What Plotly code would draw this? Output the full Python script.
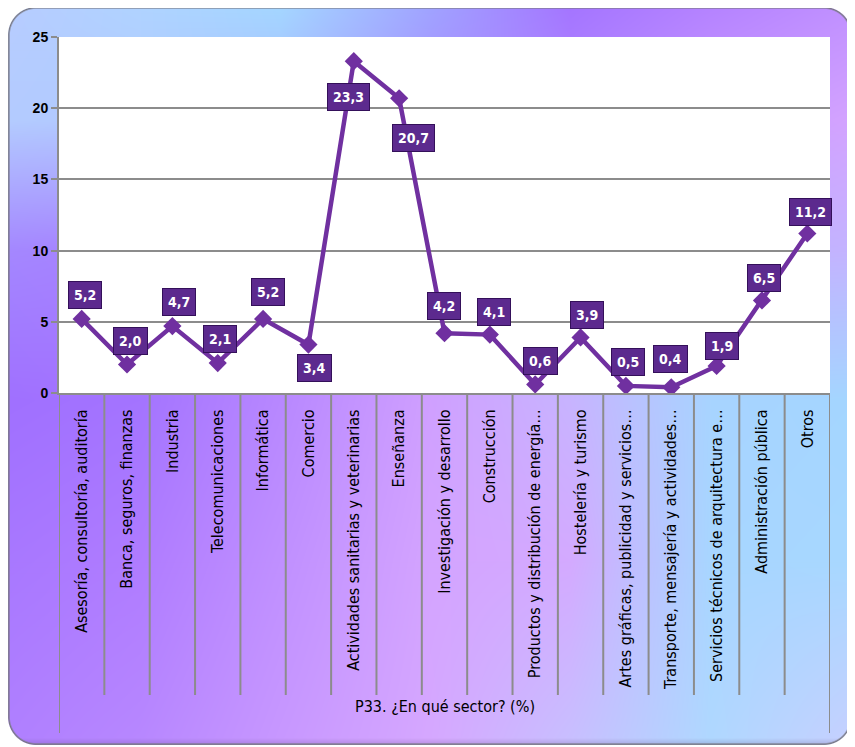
import base64
import struct
import zlib

import numpy as np
import plotly.graph_objects as go

# datos
sectores = [
    "Asesoría, consultoría, auditoría",
    "Banca, seguros, finanzas",
    "Industria",
    "Telecomunicaciones",
    "Informática",
    "Comercio",
    "Actividades sanitarias y veterinarias",
    "Enseñanza",
    "Investigación y desarrollo",
    "Construcción",
    "Productos y distribución de energía…",
    "Hostelería y turismo",
    "Artes gráficas, publicidad y servicios…",
    "Transporte, mensajería y actividades…",
    "Servicios técnicos de arquitectura e…",
    "Administración pública",
    "Otros",
]
porcentaje = [5.2, 2.0, 4.7, 2.1, 5.2, 3.4, 23.3, 20.7, 4.2, 4.1, 0.6, 3.9, 0.5, 0.4, 1.9, 6.5, 11.2]
titulo_eje = "P33. ¿En qué sector? (%)"

# desplazamiento de las etiquetas (px)
label_dx = [3, 3, 7, 2, 5, 6, -5, 14, -1, 4, 5, 6, 2, -1, 5, 2, 3]
label_dy = [24, 24, 24, 24, 27, -23, -36, -40, 27, 23, 23, 22, 24, 28, 20, 22, 22]

# la pagina tiene 8px de margen: coordenadas de pantalla = figura + OFF
OFF = 8
W, H = 855 - OFF, 747 - OFF
L, R, T, B = 51, 25, 29, 354
PW, PH = W - L - R, H - T - B
NARROW = "Liberation Sans Narrow, Arial Narrow, DejaVu Sans Condensed, sans-serif"
PURPLE = "#7030a0"
GRID = "#8c8c8c"


def paper_x(sx):
    return (sx - OFF - L) / PW


def paper_y(sy):
    return (H - B - (sy - OFF)) / PH


# fondo degradado con esquinas redondeadas (png en memoria)
def hex2rgb(h):
    h = h.lstrip("#")
    return [int(h[i:i + 2], 16) for i in (0, 2, 4)]


cx = [0, 140, 280, 430, 570, 710, 855]
cy = [0, 120, 250, 400, 560, 747]
grid = [
    ["#b8ccff", "#b0d4ff", "#a4d8ff", "#a0a4ff", "#a474ff", "#b482ff", "#c090ff"],
    ["#b4ccff", "#b0c8ff", "#a8b8ff", "#a890ff", "#b088ff", "#c898ff", "#d4a4ff"],
    ["#a488ff", "#a880ff", "#b088ff", "#c098ff", "#c0a8ff", "#c0b0ff", "#c4b4ff"],
    ["#a070ff", "#a474ff", "#b888ff", "#d0a0ff", "#c8b4ff", "#a8d4ff", "#a4d6ff"],
    ["#a878ff", "#b07cff", "#c090ff", "#d4a4ff", "#d4aaff", "#a8d6ff", "#a8d8ff"],
    ["#b080ff", "#b888ff", "#c898ff", "#d6a8ff", "#c8c0ff", "#b0d8ff", "#c8d0ff"],
]
ctrl = np.array([[hex2rgb(c) for c in row] for row in grid], float)
gx = np.arange(W) + OFF
rows = np.stack([np.stack([np.interp(gx, cx, ctrl[r, :, k]) for k in range(3)], -1)
                 for r in range(len(cy))])
gy = np.arange(H) + OFF
idx = np.clip(np.searchsorted(cy, gy, side="right") - 1, 0, len(cy) - 2)
t = ((gy - np.array(cy)[idx]) / (np.array(cy)[idx + 1] - np.array(cy)[idx]))[:, None, None]
img = rows[idx] * (1 - t) + rows[idx + 1] * t

# area de trazado blanca
img[T:H - B, L:W - R] = 255

# rectangulo redondeado (coordenadas de pantalla)
x0, y0, x1, y1, rad = 8, 7, 852, 745, 28
px, py = np.meshgrid(gx + 0.5, gy + 0.5)
qx = np.abs(px - (x0 + x1) / 2) - (x1 - x0) / 2 + rad
qy = np.abs(py - (y0 + y1) / 2) - (y1 - y0) / 2 + rad
d = np.hypot(np.maximum(qx, 0), np.maximum(qy, 0)) + np.minimum(np.maximum(qx, qy), 0) - rad
d = d[:, :, None]
shade = np.clip((py[:, :, None] - (y1 - 7)) / 7, 0, 1) * 0.25
img = img * (1 - shade) + np.array([90, 70, 130]) * shade
border = np.clip(1 - np.abs(d + 0.8) / 1.6, 0, 1)
img = img * (1 - border) + np.array([120, 120, 130]) * border
outside = np.clip(d + 0.5, 0, 1)
img = img * (1 - outside) + 255 * outside
img = np.clip(img, 0, 255).astype(np.uint8)


def png_uri(rgb):
    h, w, _ = rgb.shape
    a = rgb.astype(np.int16)
    f = a.copy()
    f[:, 1:] = (a[:, 1:] - a[:, :-1]) % 256
    f = f.astype(np.uint8).reshape(h, -1)
    raw = np.hstack([np.ones((h, 1), np.uint8), f]).tobytes()

    def chunk(tag, data):
        c = struct.pack(">I", len(data)) + tag + data
        return c + struct.pack(">I", zlib.crc32(tag + data) & 0xFFFFFFFF)

    png = b"\x89PNG\r\n\x1a\n"
    png += chunk(b"IHDR", struct.pack(">IIBBBBB", w, h, 8, 2, 0, 0, 0))
    png += chunk(b"IDAT", zlib.compress(raw, 9))
    png += chunk(b"IEND", b"")
    return "data:image/png;base64," + base64.b64encode(png).decode()


fig = go.Figure()

fig.add_trace(go.Scatter(
    x=sectores, y=porcentaje, mode="lines+markers",
    line=dict(color=PURPLE, width=4.5),
    marker=dict(symbol="diamond", size=14, color=PURPLE),
    hoverinfo="skip", showlegend=False,
))

for s, v, dx, dy in zip(sectores, porcentaje, label_dx, label_dy):
    fig.add_annotation(
        x=s, y=v, xref="x", yref="y", showarrow=False,
        text="<b>" + f"{v:.1f}".replace(".", ",") + "</b>",
        font=dict(family=NARROW, size=14, color="white"),
        bgcolor="#5c2a8e", bordercolor="#34105a", borderwidth=1, borderpad=5,
        xshift=dx, yshift=dy,
    )

# separadores del eje de categorias
for i in range(len(sectores) + 1):
    outer = i in (0, len(sectores))
    fig.add_shape(type="line", xref="x", yref="paper",
                  x0=i - 0.5, x1=i - 0.5,
                  y0=0, y1=paper_y(733 if outer else 695),
                  line=dict(color=GRID, width=2))

fig.add_annotation(
    x=paper_x(444.5), y=paper_y(718), xref="paper", yref="paper",
    text=titulo_eje, showarrow=False,
    font=dict(family=NARROW, size=16, color="black"),
)

fig.update_layout(
    width=W, height=H,
    margin=dict(l=L, r=R, t=T, b=B),
    paper_bgcolor="white", plot_bgcolor="white",
    images=[dict(source=png_uri(img), xref="paper", yref="paper",
                 x=paper_x(OFF), y=paper_y(OFF), sizex=W / PW, sizey=H / PH,
                 sizing="stretch", layer="below",
                 xanchor="left", yanchor="top")],
    xaxis=dict(
        type="category", range=[-0.5, len(sectores) - 0.5],
        tickangle=-90, tickfont=dict(family=NARROW, size=16, color="black"),
        showgrid=False, showline=True, linecolor=GRID, linewidth=2,
        ticks="", ticklabelstandoff=8, fixedrange=True,
    ),
    yaxis=dict(
        range=[0, 25], dtick=5, tickformat="d",
        tickfont=dict(family="Liberation Sans, Arial, sans-serif", size=14, color="black"),
        gridcolor=GRID, gridwidth=2, zeroline=False,
        showline=True, linecolor=GRID, linewidth=2,
        ticks="outside", ticklen=6, tickcolor=GRID, tickwidth=2,
        fixedrange=True,
    ),
)
fig.update_yaxes(tickprefix="<b>", ticksuffix="</b>")

fig.write_html("out.html")
